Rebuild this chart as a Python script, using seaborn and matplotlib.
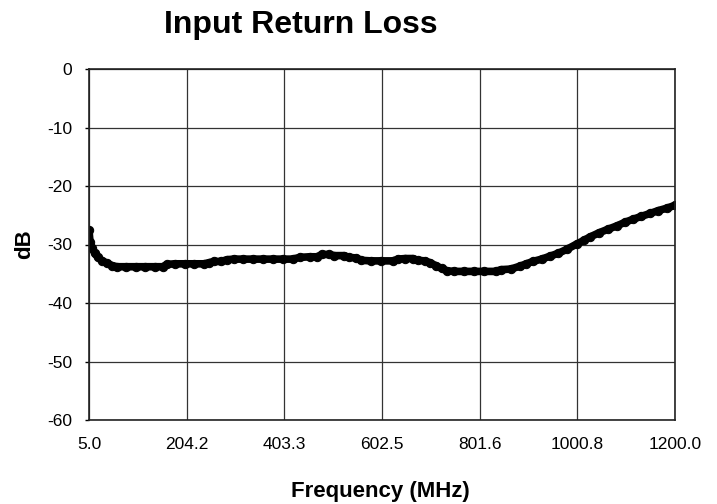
import pandas as pd
import matplotlib
matplotlib.use("Agg")
import matplotlib.pyplot as plt
import seaborn as sns

# Frequency sweep (MHz) and return loss (dB)
freq_mhz = [5, 7, 11, 17, 23, 32, 42, 52, 62, 80, 100, 120, 140, 155,
            164, 180, 200, 220, 240, 250, 260, 275, 286, 300, 320, 340,
            360, 380, 400, 420, 435, 455, 470, 480, 495, 505, 525, 535,
            550, 560, 580, 600, 625, 635, 650, 665, 675, 690, 700, 712,
            724, 735, 750, 770, 790, 810, 835, 845, 865, 884, 897, 910,
            928, 945, 962, 980, 1000, 1014, 1027, 1045, 1063, 1082, 1098,
            1114, 1131, 1149, 1166, 1183, 1200]
loss_db = [-27.6, -29.5, -30.6, -31.5, -32.2, -32.8, -33.2, -33.6, -33.8,
           -33.8, -33.8, -33.8, -33.8, -33.8, -33.4, -33.3, -33.3, -33.3,
           -33.3, -33.1, -32.9, -32.9, -32.6, -32.5, -32.5, -32.5, -32.5,
           -32.5, -32.5, -32.5, -32.2, -32.1, -32.1, -31.7, -31.7, -31.9,
           -31.9, -32.2, -32.3, -32.7, -32.8, -32.8, -32.8, -32.5, -32.4,
           -32.4, -32.7, -32.8, -33.1, -33.6, -34.1, -34.5, -34.6, -34.6,
           -34.6, -34.6, -34.6, -34.3, -34.2, -33.7, -33.3, -32.9, -32.5,
           -32.0, -31.5, -30.8, -29.9, -29.3, -28.7, -28.0, -27.4, -26.8,
           -26.2, -25.7, -25.2, -24.7, -24.2, -23.8, -23.3]

x_ticks = [5.0, 204.2, 403.3, 602.5, 801.6, 1000.8, 1200.0]
x_tick_labels = ["5.0", "204.2", "403.3", "602.5", "801.6", "1000.8", "1200.0"]
y_ticks = [0, -10, -20, -30, -40, -50, -60]


def main():
    sns.set_style("white")
    plt.rcParams['font.family'] = ['Liberation Sans', 'DejaVu Sans']
    plt.rcParams['axes.unicode_minus'] = False
    plt.rcParams['text.color'] = 'black'

    df = pd.DataFrame({'freq': freq_mhz, 'db': loss_db})

    fig = plt.figure(figsize=(7.17, 5.04), dpi=100)
    ax = fig.add_axes([89 / 717, 1 - 420 / 504, (675 - 89) / 717, (420 - 69) / 504])

    sns.lineplot(data=df, x='freq', y='db', ax=ax, color='black',
                 linewidth=5.5, marker='o', markersize=6,
                 markeredgecolor='black')

    ax.set_xlim(5, 1200)
    ax.set_ylim(-60, 0)
    ax.set_xticks(x_ticks)
    ax.set_xticklabels(x_tick_labels)
    ax.set_yticks(y_ticks)

    for lab in ax.get_xticklabels() + ax.get_yticklabels():
        lab.set_fontsize(12.5)
        lab.set_color('black')

    ax.tick_params(axis='x', length=0, pad=12)
    ax.tick_params(axis='y', length=3, width=1, color='black', pad=9, left=True)

    ax.grid(True, color='#333333', linewidth=0.9)
    for s in ax.spines.values():
        s.set_color('#222222')
        s.set_linewidth(1.2)

    ax.set_xlabel('')
    ax.set_ylabel('')
    fig.text(380 / 717, 1 - 492 / 504, 'Frequency (MHz)', ha='center', va='center',
             fontsize=16, fontweight='bold', color='black')
    fig.text(25 / 717, 1 - 244 / 504, 'dB', ha='center', va='center',
             rotation=90, fontsize=16, fontweight='bold', color='black')
    fig.text(301 / 717, 1 - 25 / 504, 'Input Return Loss', ha='center', va='center',
             fontsize=23, fontweight='bold', color='black')

    fig.savefig('out.png', dpi=100)


if __name__ == "__main__":
    main()
